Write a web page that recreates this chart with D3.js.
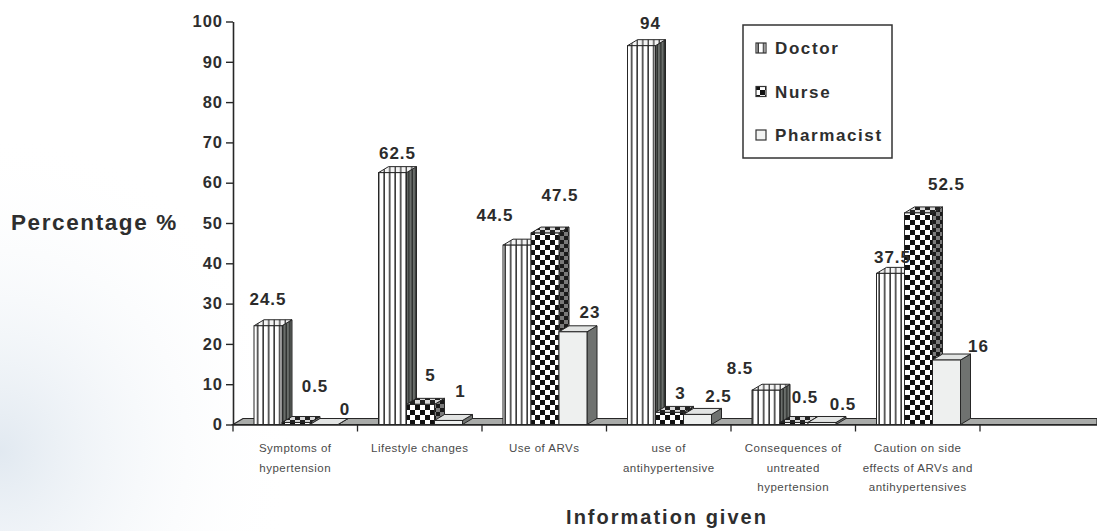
<!DOCTYPE html>
<html>
<head>
<meta charset="utf-8">
<script src="https://cdn.jsdelivr.net/npm/d3@7"></script>
<style>
  html, body { margin: 0; padding: 0; background: #fff; }
  svg { display: block; font-family: "Liberation Sans", Arial, Helvetica, sans-serif; }
</style>
</head>
<body>
<svg id="chart" width="1097" height="531"></svg>
<script>
// ---- data ----
const categories = [
  "Symptoms of hypertension",
  "Lifestyle changes",
  "Use of ARVs",
  "use of antihypertensive",
  "Consequences of untreated hypertension",
  "Caution on side effects of ARVs and antihypertensives"
];
const categoryLines = [
  ["Symptoms of", "hypertension"],
  ["Lifestyle changes"],
  ["Use of ARVs"],
  ["use of", "antihypertensive"],
  ["Consequences of", "untreated", "hypertension"],
  ["Caution on side", "effects of ARVs and", "antihypertensives"]
];
const series = ["Doctor", "Nurse", "Pharmacist"];
const doctor = [24.5, 62.5, 44.5, 94, 8.5, 37.5];
const nurse = [0.5, 5, 47.5, 3, 0.5, 52.5];
const pharmacist = [0, 1, 23, 2.5, 0.5, 16];
const yTicks = [0, 10, 20, 30, 40, 50, 60, 70, 80, 90, 100];
const yTitle = "Percentage %";
const xTitle = "Information given";

// ---- layout ----
const W = 1097, H = 531;
const plot = { left: 233, right: 980, top: 21.5, bottom: 424.5 };
const depth = { dx: 10, dy: 6 };
const barW = 28, groupInset = 21;
// hand-placed value label offsets (from the front-face centre and top of each bar)
const labelShift = {
  Doctor:     [[0, -27], [5, -20], [-22, -30], [9, -23], [-26, -22], [2, -16]],
  Nurse:      [[19, -37], [10, -29], [15, -38], [11, -20], [11, -26], [28, -29]],
  Pharmacist: [[21, -16], [12, -30], [17, -20], [21, -19], [21, -19], [32, -14]]
};

const valuesBySeries = { Doctor: doctor, Nurse: nurse, Pharmacist: pharmacist };

const svg = d3.select("#chart");
const defs = svg.append("defs");

// faint scanner tint fading out from the lower-left margin
const haze = defs.append("radialGradient").attr("id", "haze")
  .attr("cx", 0).attr("cy", 0.85).attr("r", 0.6)
  .attr("gradientTransform", "scale(0.45,1)");
haze.append("stop").attr("offset", 0).attr("stop-color", "#dce5ee").attr("stop-opacity", 0.85);
haze.append("stop").attr("offset", 1).attr("stop-color", "#ffffff").attr("stop-opacity", 0);
svg.append("rect").attr("x", 0).attr("y", 0).attr("width", W).attr("height", H).attr("fill", "#fff");
svg.append("rect").attr("x", 0).attr("y", 0).attr("width", W).attr("height", H).attr("fill", "url(#haze)");

// fill patterns
function stripePattern(id, bg, line, lw, period) {
  const p = defs.append("pattern").attr("id", id).attr("patternUnits", "userSpaceOnUse")
    .attr("width", period).attr("height", 10);
  p.append("rect").attr("width", period).attr("height", 10).attr("fill", bg);
  p.append("rect").attr("x", period - lw).attr("width", lw).attr("height", 10).attr("fill", line);
}
function checkerPattern(id, a, b, s) {
  const p = defs.append("pattern").attr("id", id).attr("patternUnits", "userSpaceOnUse")
    .attr("width", 2 * s).attr("height", 2 * s);
  p.append("rect").attr("width", 2 * s).attr("height", 2 * s).attr("fill", b);
  p.append("rect").attr("width", s).attr("height", s).attr("fill", a);
  p.append("rect").attr("x", s).attr("y", s).attr("width", s).attr("height", s).attr("fill", a);
}
stripePattern("docFront", "#ffffff", "#3a3a3a", 1.6, 5.5);
stripePattern("docTop", "#f4f4f4", "#4a4a4a", 1.4, 5.5);
stripePattern("docSide", "#6a6e6b", "#2e312f", 1.4, 3.5);
checkerPattern("nurFront", "#111111", "#ffffff", 5);
checkerPattern("nurTop", "#222222", "#d8d8d8", 5);
checkerPattern("nurSide", "#1a1a1a", "#7a7a7a", 4);

const faceFill = {
  Doctor: { front: "url(#docFront)", top: "url(#docTop)", side: "url(#docSide)" },
  Nurse: { front: "url(#nurFront)", top: "url(#nurTop)", side: "url(#nurSide)" },
  Pharmacist: { front: "#eef0ef", top: "#e2e4e3", side: "#6f7270" }
};

// scales
const x0 = d3.scaleBand().domain(categories).range([plot.left, plot.right]).padding(0);
const x1 = d3.scaleBand().domain(series).range([groupInset, groupInset + barW * series.length]).padding(0);
const y = d3.scaleLinear().domain([0, 100]).range([plot.bottom, plot.top]);

const ink = "#262626";

// floor slab
const floorY = y(0);
svg.append("polygon")
  .attr("points", [
    [plot.left, floorY], [plot.left + depth.dx, floorY - depth.dy],
    [W, floorY - depth.dy], [W, floorY]
  ].map(p => p.join(",")).join(" "))
  .attr("fill", "#a9aba9").attr("stroke", ink).attr("stroke-width", 1.2);

// x axis front edge + boundary ticks
svg.append("line").attr("x1", plot.left).attr("x2", W).attr("y1", floorY + 0.5).attr("y2", floorY + 0.5)
  .attr("stroke", ink).attr("stroke-width", 1.5);
const boundaries = categories.map(c => x0(c)).concat([plot.right]);
svg.append("g").selectAll("line").data(boundaries).join("line")
  .attr("x1", d => d).attr("x2", d => d)
  .attr("y1", floorY).attr("y2", floorY + 7)
  .attr("stroke", ink).attr("stroke-width", 1.3);

// y axis
const yAxis = svg.append("g")
  .attr("transform", `translate(${plot.left},0)`)
  .call(d3.axisLeft(y).tickValues(yTicks).tickSize(7).tickSizeOuter(0).tickPadding(3));
yAxis.select(".domain").attr("stroke", ink).attr("stroke-width", 1.6);
yAxis.selectAll(".tick line").attr("stroke", ink).attr("stroke-width", 1.4);
yAxis.selectAll(".tick text")
  .attr("fill", "#2e2e2e")
  .attr("font-size", 16.5).attr("font-weight", "bold")
  .attr("letter-spacing", "1px")
  .attr("font-family", "'Liberation Sans', Arial, sans-serif");

// 3D bars
const bars = svg.append("g");
categories.forEach((cat, ci) => {
  series.forEach(s => {
    const v = valuesBySeries[s][ci];
    const xl = x0(cat) + x1(s);
    const xr = xl + barW;
    const yt = y(v), yb = y(0);
    const g = bars.append("g");
    const f = faceFill[s];
    const poly = pts => pts.map(p => p.join(",")).join(" ");
    g.append("polygon")
      .attr("points", poly([[xr, yt], [xr + depth.dx, yt - depth.dy], [xr + depth.dx, yb - depth.dy], [xr, yb]]))
      .attr("fill", f.side).attr("stroke", ink).attr("stroke-width", 1);
    g.append("polygon")
      .attr("points", poly([[xl, yt], [xl + depth.dx, yt - depth.dy], [xr + depth.dx, yt - depth.dy], [xr, yt]]))
      .attr("fill", f.top).attr("stroke", ink).attr("stroke-width", 1);
    g.append("rect")
      .attr("x", xl).attr("y", yt).attr("width", barW).attr("height", Math.max(0, yb - yt))
      .attr("fill", f.front).attr("stroke", ink).attr("stroke-width", 1);
  });
});

// value labels
const labels = svg.append("g")
  .attr("font-size", 17).attr("font-weight", "bold").attr("fill", "#2b2b2b")
  .attr("text-anchor", "middle").attr("letter-spacing", "1px");
categories.forEach((cat, ci) => {
  series.forEach(s => {
    const v = valuesBySeries[s][ci];
    const cx = x0(cat) + x1(s) + barW / 2;
    const [dx, dy] = labelShift[s][ci];
    labels.append("text")
      .attr("x", cx + dx).attr("y", y(v) + dy)
      .attr("dy", "0.36em")
      .text(String(v));
  });
});

// category labels
const catG = svg.append("g")
  .attr("font-size", 11.5).attr("fill", "#4a4a4a").attr("text-anchor", "middle")
  .attr("letter-spacing", "0.5px");
categories.forEach((cat, ci) => {
  const cx = x0(cat) + x0.bandwidth() / 2;
  categoryLines[ci].forEach((line, li) => {
    catG.append("text").attr("x", cx).attr("y", 452 + li * 19.5).text(line);
  });
});

// axis titles
svg.append("text").attr("x", 11).attr("y", 230)
  .attr("font-size", 22.5).attr("font-weight", "bold").attr("fill", "#2e2e2e")
  .attr("letter-spacing", "1.6px").text(yTitle);
svg.append("text").attr("x", 667).attr("y", 524)
  .attr("text-anchor", "middle")
  .attr("font-size", 20).attr("font-weight", "bold").attr("fill", "#2e2e2e")
  .attr("letter-spacing", "2px").text(xTitle);

// legend
const legend = svg.append("g");
legend.append("rect").attr("x", 743).attr("y", 25).attr("width", 149).attr("height", 133)
  .attr("fill", "#fff").attr("stroke", "#333").attr("stroke-width", 1.5);
const legendFill = { Doctor: "url(#docFront)", Nurse: "url(#nurFront)", Pharmacist: "#f2f3f2" };
series.forEach((s, i) => {
  const cy = 48 + i * 43.5;
  legend.append("rect").attr("x", 756).attr("y", cy - 5).attr("width", 10).attr("height", 10)
    .attr("fill", legendFill[s]).attr("stroke", "#333").attr("stroke-width", 1.2);
  legend.append("text").attr("x", 775).attr("y", cy).attr("dy", "0.36em")
    .attr("font-size", 17).attr("font-weight", "bold").attr("fill", "#2e2e2e")
    .attr("letter-spacing", "1.6px").text(s);
});
</script>
</body>
</html>
